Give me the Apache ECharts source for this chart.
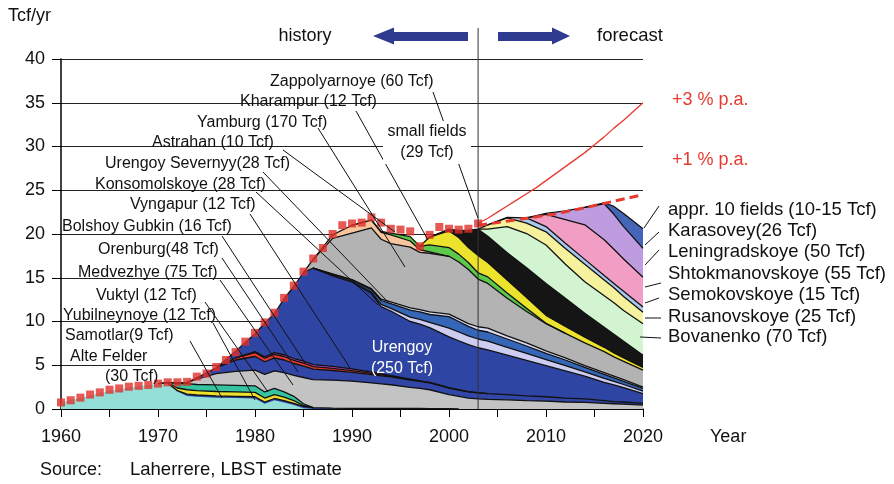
<!DOCTYPE html>
<html>
<head>
<meta charset="utf-8">
<script src="https://cdn.jsdelivr.net/npm/echarts@6/dist/echarts.min.js"></script>
<style>
html,body{margin:0;padding:0;background:#fff;}
#chart{width:894px;height:484px;}
</style>
</head>
<body>
<div id="chart"></div>
<script>
// Sample years shared by every production layer (Tcf/yr)
const years = [1960,1962,1965,1968,1970,1971,1972,1973,1974,1976,1978,1980,1981,1982,1983,1984,1985,1986,1988,1990,
               1992,1993,1994,1996,1997,1998,2000,2001,2002,2003,2004,2006,2008,2010,2012,2014,2016,2017,2018,2020];
const N = null;

// Field layers, bottom to top (thickness of each layer)
const alteFelder      = [0.75,1.3,2.1,2.6,2.9,2.95,2.0,1.5,1.4,1.3,1.25,1.2,0.6,1.0,0.75,0.45,0.1,0,N,N, N,N,N,N,N,N,N,N,N,N,N,N,N,N,N,N,N,N,N,N];
const samotlar        = [N,N,N,N,N,0,0.1,0.2,0.2,0.2,0.2,0.2,0.2,0.2,0.2,0.2,0.2,0.15,0.1,0.08, 0.08,0.08,0.07,0.06,0.06,0.05,0.05,0,N,N,N,N,N,N,N,N,N,N,N,N];
const yubilneynoye    = [N,N,N,N,0,0.05,0.3,0.5,0.5,0.5,0.5,0.5,0.45,0.45,0.4,0.3,0.1,0,N,N, N,N,N,N,N,N,N,N,N,N,N,N,N,N,N,N,N,N,N,N];
const vuktyl          = [N,N,N,N,0,0.05,0.5,0.7,0.7,0.75,0.75,0.75,0.7,0.7,0.6,0.5,0.2,0,N,N, N,N,N,N,N,N,N,N,N,N,N,N,N,N,N,N,N,N,N,N];
const medvezhye       = [N,N,N,N,N,0,0.1,0.15,0.6,1.3,1.6,1.8,2.0,2.0,2.2,2.4,3.0,3.2,3.2,3.1, 2.9,2.8,2.7,2.4,2.3,2.15,1.6,1.45,1.25,1.15,1.1,1.05,0.95,0.9,0.8,0.75,0.65,0.6,0.55,0.45];
const orenburg        = [N,N,N,N,N,N,N,0,0.15,0.65,1.3,1.55,1.45,1.5,1.45,1.35,1.3,1.2,1.1,1.0, 0.95,0.9,0.9,0.85,0.8,0.8,0.75,0.72,0.7,0.7,0.65,0.6,0.55,0.5,0.45,0.4,0.3,0.25,0.25,0.2];
const bolshoyGubkin   = [N,N,N,N,N,N,N,N,N,0,0.25,0.45,0.4,0.4,0.4,0.35,0.35,0.3,0.25,0.2, 0.15,0.12,0.1,0.08,0.06,0.05,0.04,0.04,0.03,0.03,0,N,N,N,N,N,N,N,N,N];
const vyngapur        = [N,N,N,N,N,N,N,N,N,N,0,0.1,0.15,0.2,0.2,0.22,0.22,0.22,0.22,0.2, 0.15,0.1,0.05,0.03,0,N,N,N,N,N,N,N,N,N,N,N,N,N,N,N];
const urengoy         = [N,N,N,N,N,N,N,N,N,0,0.75,2.05,3.85,4.45,6.4,8.23,10.13,11.03,10.33,9.92, 8.97,7.7,7.38,6.58,6.48,6.25,5.81,5.59,5.37,5.12,5.0,4.5,4.05,3.55,3.1,2.6,2.1,1.9,1.65,1.1];
const urengoySevernyy = [N,N,N,N,N,N,N,N,N,N,N,N,N,N,N,N,N,0,0.1,0.1, 0.15,0.25,0.3,0.5,0.55,0.6,1.0,1.0,1.0,1.0,1.0,0.9,0.8,0.7,0.6,0.5,0.45,0.4,0.35,0.3];
const konsomolskoye   = [N,N,N,N,N,N,N,N,N,N,N,N,N,N,N,N,N,0,0.1,0.15, 0.3,0.45,0.55,0.8,0.85,0.9,1.3,1.2,1.1,1.0,1.05,0.95,0.85,0.7,0.65,0.5,0.45,0.4,0.35,0.3];
const nadymMinor      = [N,N,N,N,N,N,N,N,N,N,N,N,N,N,N,N,N,0,0.05,0.05, 0.1,0.15,0.2,0.25,0.25,0.3,0.3,0.3,0.3,0.4,0.45,0.35,0.35,0.3,0.25,0.2,0.2,0.2,0.2,0.15];
const yamburg         = [N,N,N,N,N,N,N,N,N,N,N,N,N,N,N,N,0,1.0,4.05,5.3, 6.95,6.85,6.65,6.95,6.55,6.7,6.6,6.5,6.2,5.45,5.1,4.3,3.6,3.1,2.8,2.6,2.4,2.2,2.1,1.95];
const astrahan        = [N,N,N,N,N,N,N,N,N,N,N,N,N,N,N,N,N,0,0.4,0.9, 0.9,0.8,1.0,0.7,0.3,0.15,0,N,N,N,N,N,N,N,N,N,N,N,N,N];
const kharampur       = [N,N,N,N,N,N,N,N,N,N,N,N,N,N,N,N,N,N,N,N, 0,0.1,0.2,0.5,0.4,0.8,1.0,0.9,0.8,0.7,0.75,0.6,0.35,0.05,0,N,N,N,N,N];
const smallFields     = [N,N,N,N,N,N,N,N,N,N,N,N,N,N,N,N,N,N,N,N, N,N,N,N,0,0.9,1.9,1.9,1.7,2.0,1.65,1.5,1.25,0.9,0.8,0.65,0.5,0.45,0.4,0.3];
const zappolyarnoye   = [N,N,N,N,N,N,N,N,N,N,N,N,N,N,N,N,N,N,N,N, N,N,N,N,N,0,0.2,0.8,2.0,3.0,3.0,3.1,3.4,3.65,3.2,2.75,2.3,2.15,1.9,1.4];
const bovanenko       = [N,N,N,N,N,N,N,N,N,N,N,N,N,N,N,N,N,N,N,N, N,N,N,N,N,N,N,N,N,0,0.8,3.0,3.9,4.4,3.9,3.6,3.6,3.6,3.5,3.6];
const rusanovskoye    = [N,N,N,N,N,N,N,N,N,N,N,N,N,N,N,N,N,N,N,N, N,N,N,N,N,N,N,N,N,0,0.5,1.0,1.2,1.5,1.8,2.0,1.8,1.7,1.6,1.3];
const semokovskoye    = [N,N,N,N,N,N,N,N,N,N,N,N,N,N,N,N,N,N,N,N, N,N,N,N,N,N,N,N,N,N,0,0.05,0.6,0.6,0.6,0.55,0.5,0.5,0.6,0.6];
const shtokmanovskoye = [N,N,N,N,N,N,N,N,N,N,N,N,N,N,N,N,N,N,N,N, N,N,N,N,N,N,N,N,N,N,N,N,0,1.4,2.7,3.95,4.1,3.9,3.7,3.4];
const leningradskoye  = [N,N,N,N,N,N,N,N,N,N,N,N,N,N,N,N,N,N,N,N, N,N,N,N,N,N,N,N,N,N,N,N,0,0.1,1.0,2.0,4.1,4.0,3.7,3.3];
const karasovey       = [N,N,N,N,N,N,N,N,N,N,N,N,N,N,N,N,N,N,N,N, N,N,N,N,N,N,N,N,N,N,N,N,N,N,N,0,0.1,0.9,1.5,2.25];

// Historic total production, one marker per year 1960-2003
const totalYears = [];
for (let y = 1960; y <= 2003; y++) totalYears.push(y);
const totalProduction = [0.75,1.0,1.3,1.65,1.9,2.2,2.35,2.55,2.65,2.75,2.9,3.05,3.05,3.1,3.7,4.05,4.8,5.6,6.5,7.7,
                         8.7,9.9,11.0,12.7,14.1,15.7,17.2,18.4,20.0,21.0,21.2,21.3,21.9,21.3,20.6,20.5,20.3,18.6,19.9,20.8,
                         20.6,20.5,20.6,21.2];

// Demand scenarios
const growth3Years  = [2003,2004,2005,2006,2007,2008,2009,2010,2011,2012,2013,2014,2015,2016,2017,2018,2019,2020];
const growth3Values = [21.2,21.8,22.5,23.2,23.9,24.6,25.3,26.1,26.9,27.7,28.5,29.3,30.2,31.1,32.1,33.0,34.0,35.0];
const growth1Years  = [2003,2005,2008,2011,2014,2016,2018,2020];
const growth1Values = [21.0,21.3,21.8,22.3,23.0,23.5,24.0,24.5];

const FONT = '"Liberation Sans", Arial, Helvetica, sans-serif';

const layers = [
  ['Alte Felder', alteFelder, '#93ded6'],
  ['Samotlar', samotlar, '#2b3f9e'],
  ['Yubilneynoye', yubilneynoye, '#efe02e'],
  ['Vuktyl', vuktyl, '#35c3a0'],
  ['Medvezhye', medvezhye, '#c3c3c3'],
  ['Orenburg', orenburg, '#3146a6'],
  ['Bolshoy Gubkin', bolshoyGubkin, '#e53a33'],
  ['Vyngapur', vyngapur, '#c447c4'],
  ['Urengoy', urengoy, '#2f45a3'],
  ['Urengoy Severnyy', urengoySevernyy, '#cdcdf2'],
  ['Konsomolskoye', konsomolskoye, '#3566b8'],
  ['Nadym minor', nadymMinor, '#dcdcf5'],
  ['Yamburg', yamburg, '#b3b3b3'],
  ['Astrahan', astrahan, '#f8c59d'],
  ['Kharampur', kharampur, '#5cc94a'],
  ['small fields', smallFields, '#ede22c'],
  ['Zappolyarnoye', zappolyarnoye, '#151515'],
  ['Bovanenko', bovanenko, '#d2f4d0'],
  ['Rusanovskoye', rusanovskoye, '#f5f19c'],
  ['Semokovskoye', semokovskoye, '#a9c7ea'],
  ['Shtokmanovskoye', shtokmanovskoye, '#f29dc4'],
  ['Leningradskoye', leningradskoye, '#bf9be0'],
  ['Karasovey', karasovey, '#4565b9']
];

// Running totals: each layer is filled from the axis up to its cumulative top,
// upper layers first so that the lower ones paint over them.
const running = years.map(() => 0);
const cumulative = layers.map(([name, vals, color]) => {
  const top = vals.map((v, i) => {
    if (v === null) return null;
    running[i] += v;
    return +running[i].toFixed(3);
  });
  return {name, color, top};
});

const areaSeries = cumulative.slice().reverse().map(l => ({
  name: l.name,
  type: 'line',
  data: years.map((y, i) => [y, l.top[i]]),
  showSymbol: false,
  symbol: 'none',
  connectNulls: false,
  smooth: false,
  silent: true,
  lineStyle: {color: '#111', width: l.name === 'Alte Felder' ? 0 : 1.3},
  areaStyle: {color: l.color, opacity: 1},
  itemStyle: {color: l.color},
  z: 2
}));

const option = {
  animation: false,
  backgroundColor: '#fff',
  textStyle: {fontFamily: FONT},
  grid: {left: 61, right: 251, top: 59, bottom: 75, containLabel: false},
  xAxis: {
    type: 'value', min: 1960, max: 2020, interval: 5,
    axisLine: {show: true, lineStyle: {color: '#000', width: 1.5}},
    axisTick: {show: true, length: 8, lineStyle: {color: '#000', width: 1}},
    axisLabel: {formatter: v => (v % 10 === 0 ? String(v) : ''), color: '#111', fontSize: 18, margin: 19, fontFamily: FONT},
    splitLine: {show: false}
  },
  yAxis: {
    type: 'value', min: 0, max: 40, interval: 5,
    axisLine: {show: true, lineStyle: {color: '#000', width: 1.5}},
    axisTick: {show: true, length: 9, lineStyle: {color: '#000', width: 1}},
    axisLabel: {color: '#111', fontSize: 18, margin: 16, fontFamily: FONT},
    splitLine: {show: true, lineStyle: {color: '#222', width: 1}}
  },
  series: areaSeries.concat([
    {
      name: '+3 % p.a.', type: 'line', silent: true, z: 6,
      data: growth3Years.map((y, i) => [y, growth3Values[i]]),
      symbol: 'none', lineStyle: {color: '#e53a2f', width: 1.3}
    },
    {
      name: '+1 % p.a.', type: 'line', silent: true, z: 6,
      data: growth1Years.map((y, i) => [y, growth1Values[i]]),
      symbol: 'none', lineStyle: {color: '#e53a2f', width: 3, type: [9, 5]}
    },
    {
      name: 'total', type: 'scatter', silent: true, z: 7,
      data: totalYears.map((y, i) => [y, totalProduction[i]]),
      symbol: 'rect', symbolSize: 8, itemStyle: {color: '#e0302a'}
    }
  ])
};

const chart = echarts.init(document.getElementById('chart'), null, {renderer: 'canvas'});
chart.setOption(option);

// ---- annotations -------------------------------------------------------
function txt(text, x, y, opts) {
  opts = opts || {};
  return {
    type: 'text', z: opts.z || 120, silent: true,
    style: {
      text, x, y,
      fill: opts.color || '#111',
      font: (opts.size || 16) + 'px ' + FONT,
      textAlign: opts.align || 'left',
      textVerticalAlign: 'middle'
    }
  };
}
function seg(x1, y1, x2, y2, w, color) {
  return {type: 'line', z: 110, silent: true, shape: {x1, y1, x2, y2}, style: {stroke: color || '#111', lineWidth: w || 1}};
}

const leftLabels = [
  ['Zappolyarnoye (60 Tcf)', 270, 82, [433, 92, 478, 218]],
  ['Kharampur (12 Tcf)', 240, 102, [356, 111, 428, 240]],
  ['Yamburg (170 Tcf)', 197, 123, [318, 128, 405, 267]],
  ['Astrahan (10 Tcf)', 152, 143, [283, 150, 395, 232]],
  ['Urengoy Severnyy(28 Tcf)', 105, 164, [263, 172, 388, 302]],
  ['Konsomolskoye (28 Tcf)', 95, 185, [256, 192, 378, 305]],
  ['Vyngapur (12 Tcf)', 130, 205, [250, 214, 350, 368]],
  ['Bolshoy Gubkin (16 Tcf)', 62, 227, [222, 236, 305, 363]],
  ['Orenburg(48 Tcf)', 98, 250, [222, 258, 298, 372]],
  ['Medvezhye (75 Tcf)', 78, 273, [220, 280, 293, 385]],
  ['Vuktyl (12 Tcf)', 96, 296, [205, 302, 268, 392]],
  ['Yubilneynoye (12 Tcf)', 63, 316, [213, 323, 255, 400]],
  ['Samotlar(9 Tcf)', 65, 336, [190, 341, 222, 398]]
];
const rightLabels = [
  ['appr. 10 fields (10-15 Tcf)', 210, [659, 206, 644, 228]],
  ['Karasovey(26 Tcf)', 231, [659, 232, 645, 245]],
  ['Leningradskoye (50 Tcf)', 252, [659, 250, 645, 265]],
  ['Shtokmanovskoye (55 Tcf)', 274, [661, 283, 645, 287]],
  ['Semokovskoye (15 Tcf)', 295, [659, 298, 645, 303]],
  ['Rusanovskoye (25 Tcf)', 317, [661, 318, 645, 318]],
  ['Bovanenko (70 Tcf)', 337, [661, 338, 640, 337]]
];

const splitX = chart.convertToPixel({xAxisIndex: 0}, 2003);
const baseY = chart.convertToPixel({yAxisIndex: 0}, 0);
const ARROW = '#2e3b8e';
const RED = '#e53a2f';

const graphic = [];
leftLabels.forEach(([t, x, y, l]) => {
  graphic.push(seg(l[0], l[1], l[2], l[3]));
  graphic.push(txt(t, x, y));
});
// small fields label sits on a white patch
graphic.push({type: 'rect', z: 115, silent: true, shape: {x: 383, y: 121, width: 88, height: 43}, style: {fill: '#fff'}});
graphic.push(txt('small fields', 427, 132, {align: 'center', z: 121}));
graphic.push(txt('(29 Tcf)', 427, 153, {align: 'center', z: 121}));
graphic.push(txt('Alte Felder', 70, 357));
graphic.push(txt('(30 Tcf)', 105, 377));
graphic.push(txt('Urengoy', 402, 348, {align: 'center', color: '#fff'}));
graphic.push(txt('(250 Tcf)', 402, 369, {align: 'center', color: '#fff'}));

rightLabels.forEach(([t, y, l]) => {
  graphic.push(seg(l[0], l[1], l[2], l[3]));
  graphic.push(txt(t, 668, y, {size: 18.5}));
});

graphic.push(txt('+3 % p.a.', 672, 100, {size: 18, color: RED}));
graphic.push(txt('+1 % p.a.', 672, 160, {size: 18, color: RED}));

// history / forecast divider and arrows
graphic.push(seg(splitX, 28, splitX, baseY, 1, '#333'));
graphic.push({type: 'polygon', z: 110, silent: true, shape: {points: [[373, 36], [394, 27.5], [394, 32], [468, 32], [468, 41], [394, 41], [394, 44.5]]}, style: {fill: ARROW}});
graphic.push({type: 'polygon', z: 110, silent: true, shape: {points: [[570, 36], [552, 27.5], [552, 32], [498, 32], [498, 41], [552, 41], [552, 44.5]]}, style: {fill: ARROW}});
graphic.push(txt('history', 305, 36, {size: 18, align: 'center'}));
graphic.push(txt('forecast', 597, 36, {size: 18.5}));

graphic.push(txt('Tcf/yr', 8, 16, {size: 18}));
graphic.push(txt('Year', 710, 437, {size: 18}));
graphic.push(txt('Source:', 40, 470, {size: 18}));
graphic.push(txt('Laherrere, LBST estimate', 130, 470, {size: 18.5}));

chart.setOption({graphic});
</script>
</body>
</html>
